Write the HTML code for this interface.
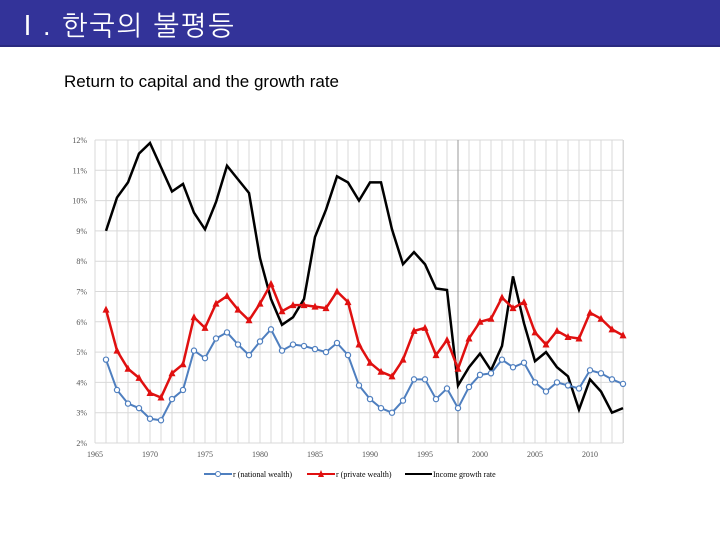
<!DOCTYPE html>
<html><head><meta charset="utf-8"><style>
body{margin:0;width:720px;height:540px;background:#fff;overflow:hidden;font-family:"Liberation Sans","Noto Sans CJK KR",sans-serif;}
#hdr{position:absolute;left:0;top:0;width:720px;height:45px;background:#333399;border-bottom:2px solid #2a2a80;}
#hdr span{position:absolute;left:14px;top:4px;color:#fff;font-size:27px;font-family:"Liberation Sans","NanumGothic","Noto Sans CJK KR",sans-serif;letter-spacing:2px;}
#ttl{position:absolute;left:64px;top:72px;font-size:17px;color:#000;}
svg{position:absolute;left:0;top:0;}
</style></head><body>
<div id="hdr"><span>Ⅰ. 한국의 불평등</span></div>
<div id="ttl">Return to capital and the growth rate</div>
<svg id="c" width="720" height="540"></svg>
<script>
const years=[];for(let y=1966;y<=2013;y++)years.push(y);
const national=[4.75,3.75,3.3,3.15,2.8,2.75,3.45,3.75,5.05,4.8,5.45,5.65,5.25,4.9,5.35,5.75,5.05,5.25,5.2,5.1,5.0,5.3,4.9,3.9,3.45,3.15,3.0,3.4,4.1,4.1,3.45,3.8,3.15,3.85,4.25,4.3,4.75,4.5,4.65,4.0,3.7,4.0,3.9,3.8,4.4,4.3,4.1,3.95];
const privateW=[6.4,5.05,4.45,4.15,3.65,3.5,4.3,4.6,6.15,5.8,6.6,6.85,6.4,6.05,6.6,7.25,6.35,6.55,6.55,6.5,6.45,7.0,6.65,5.25,4.65,4.35,4.2,4.75,5.7,5.8,4.9,5.4,4.45,5.45,6.0,6.1,6.8,6.45,6.65,5.65,5.25,5.7,5.5,5.45,6.3,6.1,5.75,5.55];
const income=[9.0,10.1,10.6,11.55,11.9,11.1,10.3,10.55,9.6,9.05,9.95,11.15,10.7,10.25,8.1,6.75,5.9,6.15,6.75,8.8,9.7,10.8,10.6,10.0,10.6,10.6,9.05,7.9,8.3,7.9,7.1,7.05,3.9,4.5,4.95,4.4,5.2,7.5,5.95,4.7,5.0,4.5,4.2,3.1,4.1,3.7,3.0,3.15];
const yTicks=[2,3,4,5,6,7,8,9,10,11,12];
const xTicks=[1965,1970,1975,1980,1985,1990,1995,2000,2005,2010];
const NS="http://www.w3.org/2000/svg",svg=document.getElementById('c');
const X=y=>95+(y-1965)*11, Y=v=>140+(12-v)*30.3;
function el(t,a,p){const e=document.createElementNS(NS,t);for(const k in a)e.setAttribute(k,a[k]);(p||svg).appendChild(e);return e;}
const grid=el('g',{});


for(let y=1965;y<=2013;y++){el('line',{x1:X(y),x2:X(y),y1:Y(12),y2:Y(2),stroke:'#d9d9d9','stroke-width':1},grid);}
el('line',{x1:X(2013)+0.5,x2:X(2013)+0.5,y1:Y(12),y2:Y(2),stroke:'#d9d9d9'},grid);
yTicks.forEach(v=>{el('line',{x1:X(1965),x2:X(2013),y1:Y(v),y2:Y(v),stroke:'#d9d9d9'},grid);
const t=el('text',{x:X(1965)-8,y:Y(v)+3,'font-size':8,'text-anchor':'end',fill:'#555','font-family':'Liberation Serif, serif'});t.textContent=v+'%';

});
xTicks.forEach(v=>{const t=el('text',{x:X(v),y:457,'font-size':8,'text-anchor':'middle',fill:'#555','font-family':'Liberation Serif, serif'});t.textContent=v;

});
const ref=el('line',{x1:X(1998),x2:X(1998),y1:Y(12),y2:Y(2),stroke:'#999','stroke-width':1});


function series(vals,color,w,name){const p=el('polyline',{points:vals.map((v,i)=>X(years[i])+','+Y(v)).join(' '),fill:'none',stroke:color,'stroke-width':w,'stroke-linejoin':'miter'});

return p;}
series(income,'#000',2.5,'income-growth-line');
series(privateW,'#e01010',2.5,'private-wealth-line');
privateW.forEach((v,i)=>{const x=X(years[i]),y=Y(v);const m=el('polygon',{points:`${x},${y-4} ${x-3.5},${y+3} ${x+3.5},${y+3}`,fill:'#e01010'});

});
series(national,'#4f7fbf',2,'national-wealth-line');
national.forEach((v,i)=>{const m=el('circle',{cx:X(years[i]),cy:Y(v),r:2.6,fill:'#fff',stroke:'#4f7fbf','stroke-width':1.2});

});
const lg=el('g',{});


el('line',{x1:204,x2:232,y1:474,y2:474,stroke:'#4f7fbf','stroke-width':2},lg);
el('circle',{cx:218,cy:474,r:2.5,fill:'#fff',stroke:'#4f7fbf'},lg);
let t=el('text',{x:233,y:477,'font-size':8,'font-family':'Liberation Serif, serif'},lg);t.textContent='r (national wealth)';
el('line',{x1:307,x2:335,y1:474,y2:474,stroke:'#e01010','stroke-width':2},lg);
el('polygon',{points:'321,470 318,477 324,477',fill:'#e01010'},lg);
t=el('text',{x:336,y:477,'font-size':8,'font-family':'Liberation Serif, serif'},lg);t.textContent='r (private wealth)';
el('line',{x1:405,x2:432,y1:474,y2:474,stroke:'#000','stroke-width':2},lg);
t=el('text',{x:433,y:477,'font-size':8,'font-family':'Liberation Serif, serif'},lg);t.textContent='Income growth rate';
</script>
</body></html>
